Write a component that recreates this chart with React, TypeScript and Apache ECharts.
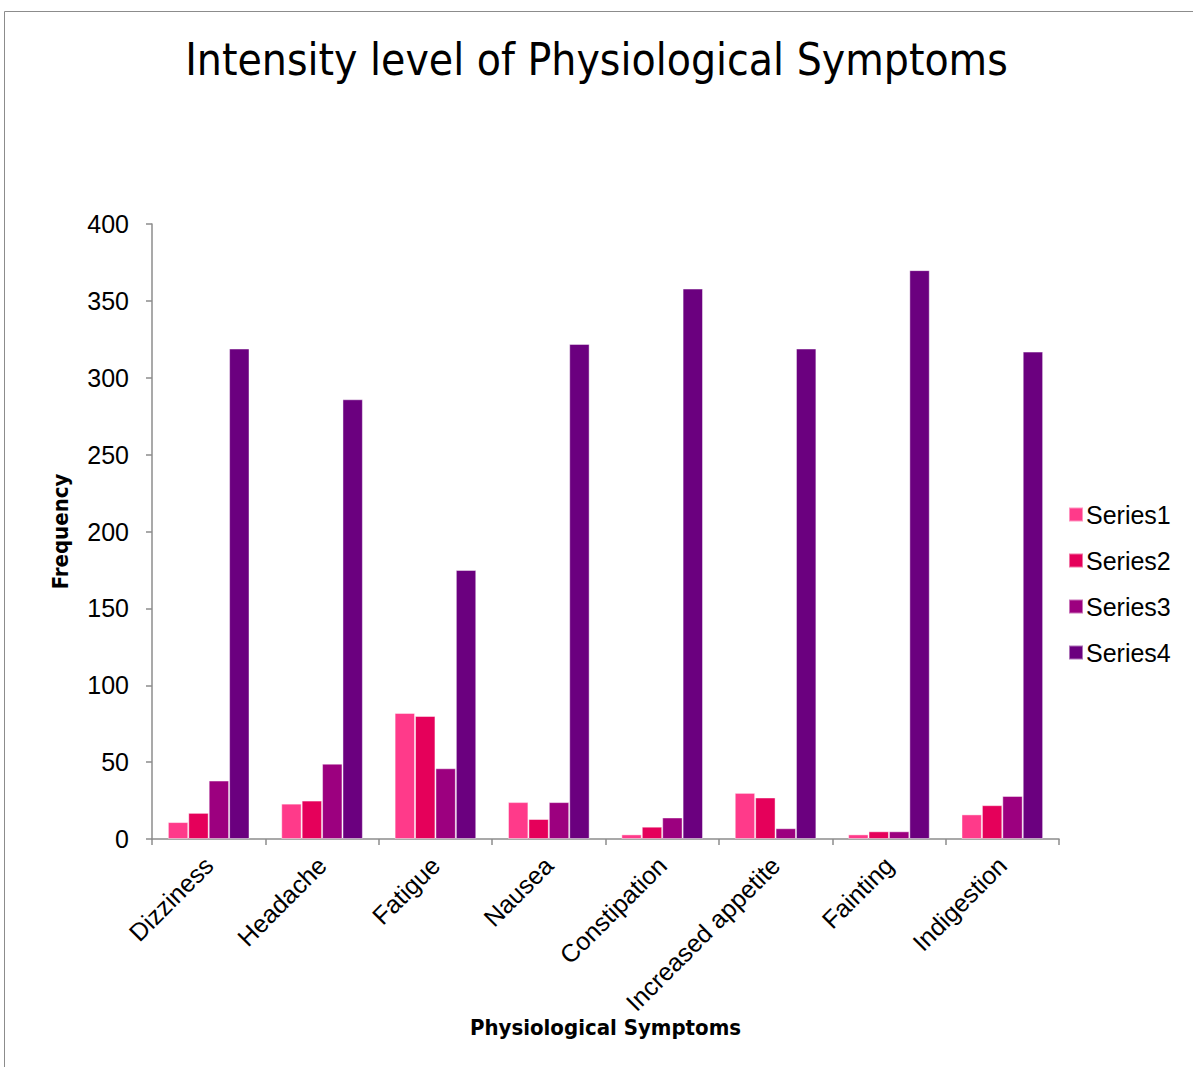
import React, { useEffect, useRef } from "react";
import * as echarts from "echarts";

const categories = ["Dizziness", "Headache", "Fatigue", "Nausea", "Constipation", "Increased appetite", "Fainting", "Indigestion"];
const series1 = [11, 23, 82, 24, 3, 30, 3, 16];
const series2 = [17, 25, 80, 13, 8, 27, 5, 22];
const series3 = [38, 49, 46, 24, 14, 7, 5, 28];
const series4 = [319, 286, 175, 322, 358, 319, 370, 317];
const seriesNames = ["Series1", "Series2", "Series3", "Series4"];
const colors = ["#FF3A8A", "#E5005A", "#9C007F", "#6B007F"];

export default function App() {
  const ref = useRef<HTMLDivElement>(null);
  useEffect(() => {
    if (!ref.current) return;
    const chart = echarts.init(ref.current, undefined, { renderer: "svg" });
    const data = [series1, series2, series3, series4];
    const narrow = "'Liberation Sans Narrow', 'DejaVu Sans Condensed', sans-serif";
    const sans = "'Liberation Sans', Arial, sans-serif";
    chart.setOption({
      animation: false,
      backgroundColor: "#ffffff",
      title: {
        text: "Intensity level of Physiological Symptoms",
        left: "center",
        top: 32,
        textStyle: { fontFamily: narrow, fontSize: 44, fontWeight: "normal", color: "#000" },
      },
      graphic: [
        { type: "line", shape: { x1: 4.5, y1: 11.5, x2: 1193, y2: 11.5 }, style: { stroke: "#8c8c8c", lineWidth: 1 } },
        { type: "line", shape: { x1: 4.5, y1: 11.5, x2: 4.5, y2: 1067 }, style: { stroke: "#8c8c8c", lineWidth: 1 } },
      ],
      legend: {
        orient: "vertical",
        left: 1063,
        top: 497,
        itemWidth: 14,
        itemHeight: 14,
        itemGap: 21,
        icon: "rect",
        textStyle: { fontFamily: sans, fontSize: 25, color: "#000", padding: [0, 0, 0, -2] },
        data: seriesNames,
      },
      grid: { left: 152, top: 224, right: 134, bottom: 228, containLabel: false },
      xAxis: {
        type: "category",
        data: categories,
        name: "Physiological Symptoms",
        nameLocation: "middle",
        nameGap: 177,
        nameMoveOverlap: false,
        nameTextStyle: { fontFamily: narrow, fontSize: 22, fontWeight: "bold", color: "#000" },
        axisLine: { lineStyle: { color: "#8c8c8c", width: 1.5 } },
        axisTick: { show: true, length: 6, lineStyle: { color: "#8c8c8c", width: 1.5 } },
        axisLabel: { rotate: 45, fontFamily: sans, fontSize: 25, color: "#000", margin: 22 },
      },
      yAxis: {
        type: "value",
        min: 0,
        max: 400,
        interval: 50,
        name: "Frequency",
        nameLocation: "middle",
        nameGap: 81,
        nameRotate: 90,
        nameMoveOverlap: false,
        nameTextStyle: { fontFamily: narrow, fontSize: 22, fontWeight: "bold", color: "#000" },
        axisLine: { show: true, lineStyle: { color: "#8c8c8c", width: 1.5 } },
        axisTick: { show: true, length: 6, lineStyle: { color: "#8c8c8c", width: 1.5 } },
        splitLine: { show: false },
        axisLabel: { fontFamily: sans, fontSize: 25, color: "#000", margin: 23 },
      },
      series: data.map((d, i) => ({
        name: seriesNames[i],
        type: "bar",
        data: d,
        barGap: "0%",
        barCategoryGap: "28%",
        itemStyle: { color: colors[i], borderColor: "rgba(255,255,255,0.45)", borderWidth: 1 },
      })),
    });
    return () => chart.dispose();
  }, []);
  return <div ref={ref} style={{ position: "fixed", left: 0, top: 0, width: 1193, height: 1067 }} />;
}
